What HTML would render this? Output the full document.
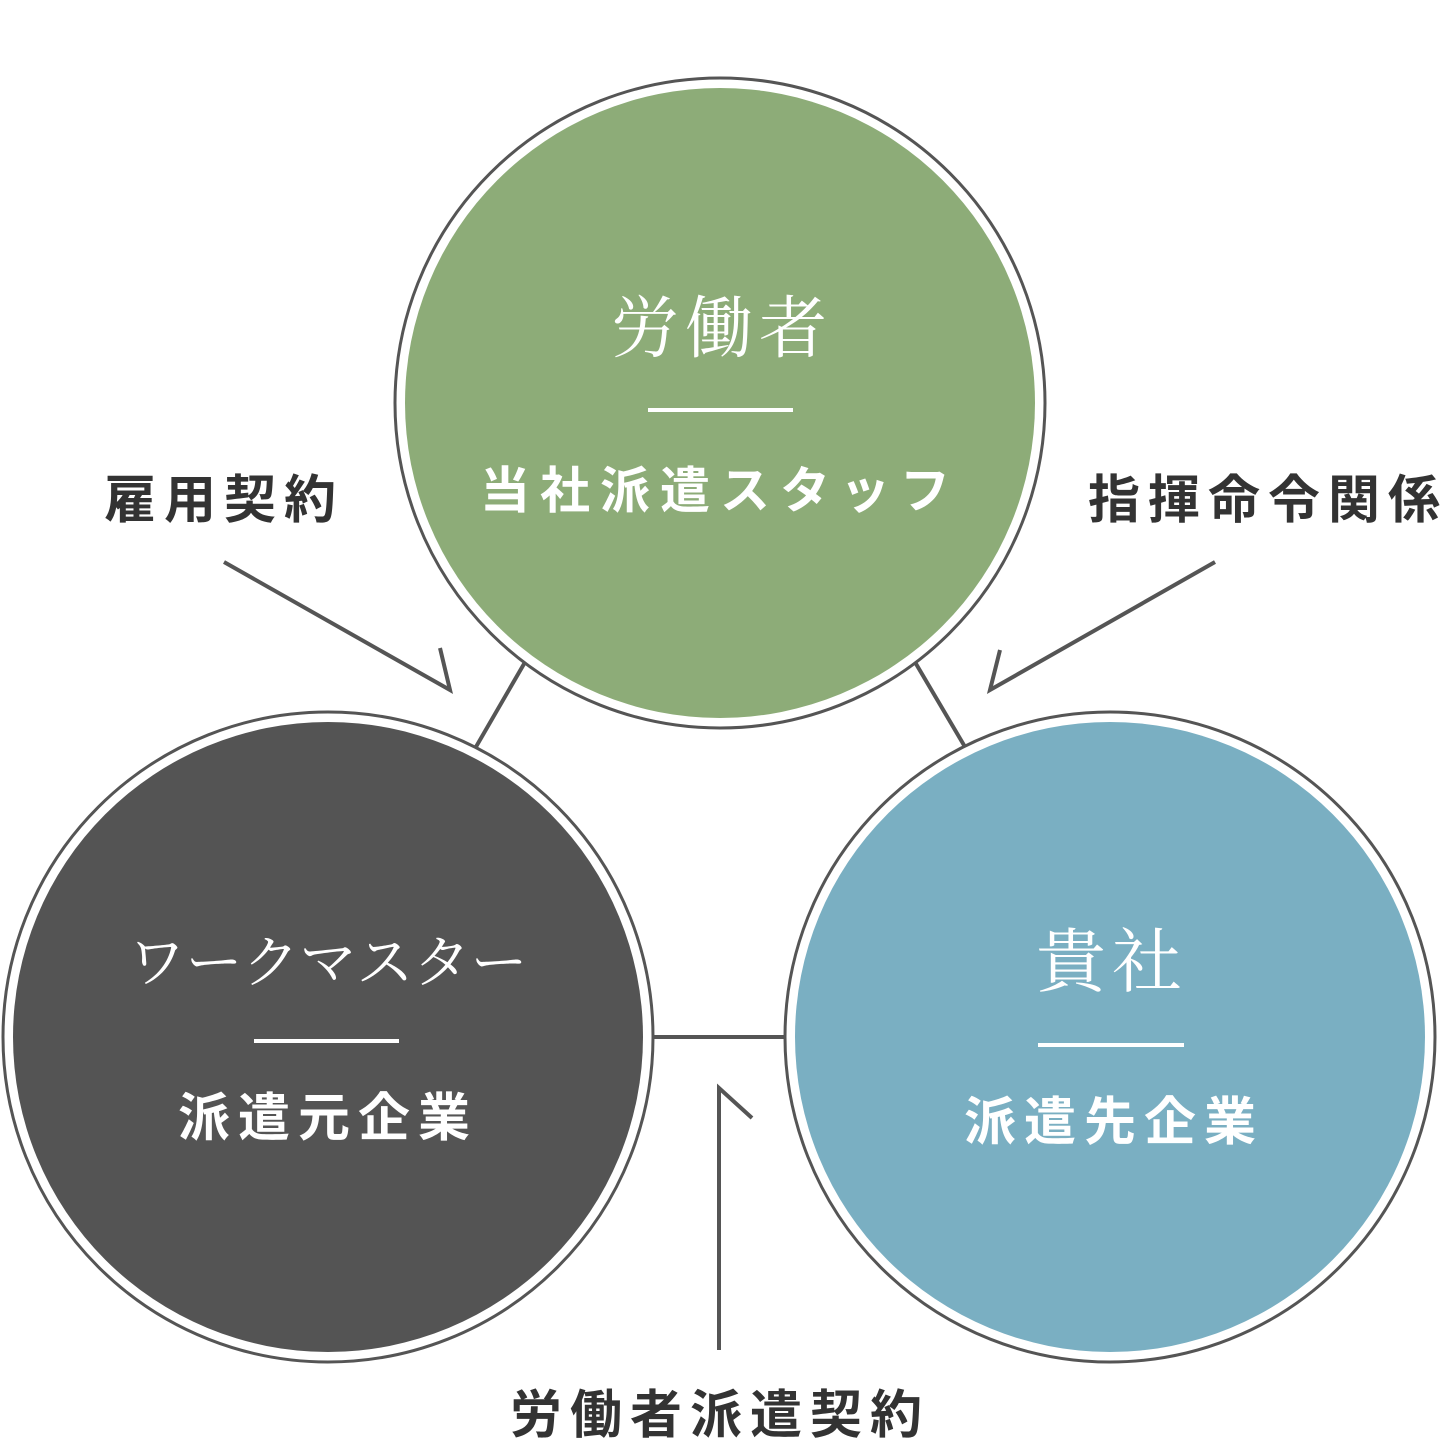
<!DOCTYPE html>
<html><head><meta charset="utf-8"><style>
html,body{margin:0;padding:0;background:#fff;}
svg{display:block}
.s{font-family:"Liberation Serif","Noto Serif CJK SC",serif;fill:#fff;}
.b{font-family:"Liberation Sans","Noto Sans CJK JP",sans-serif;font-weight:bold;}
</style></head><body>
<svg width="1440" height="1440" viewBox="0 0 1440 1440" xmlns="http://www.w3.org/2000/svg">
<g stroke="#555" stroke-width="4" fill="none">
<line x1="528" y1="657" x2="473" y2="752"/>
<line x1="912" y1="657" x2="968" y2="752"/>
<line x1="650" y1="1037" x2="795" y2="1037"/>
<polyline points="224,562 450,690 440,648"/>
<polyline points="1215,562 990,690 1000,650"/>
<polyline points="719,1350 719,1088 752,1118"/>
</g>
<circle cx="720" cy="403" r="325" fill="#fff" stroke="#555" stroke-width="3"/>
<circle cx="720" cy="403" r="315" fill="#8dac78"/>
<circle cx="328" cy="1037" r="325" fill="#fff" stroke="#555" stroke-width="3"/>
<circle cx="328" cy="1037" r="315" fill="#545454"/>
<circle cx="1110" cy="1037" r="325" fill="#fff" stroke="#555" stroke-width="3"/>
<circle cx="1110" cy="1037" r="315" fill="#7aafc2"/>
<g fill="#fff">
<rect x="648" y="408" width="145" height="4"/>
<rect x="254" y="1039" width="145" height="4"/>
<rect x="1038" y="1043" width="146" height="4"/>
</g>
<text class="s" x="722" y="352" font-size="68" text-anchor="middle" letter-spacing="6">労働者</text>
<text class="b" x="720" y="508" font-size="50" fill="#fff" text-anchor="middle" letter-spacing="10">当社派遣スタッフ</text>
<text class="s" x="328" y="982" font-size="57" text-anchor="middle" letter-spacing="0">ワークマスター</text>
<text class="b" x="328" y="1136" font-size="52" fill="#fff" text-anchor="middle" letter-spacing="8">派遣元企業</text>
<text class="s" x="1112" y="986" font-size="70" text-anchor="middle" letter-spacing="6">貴社</text>
<text class="b" x="1114" y="1140" font-size="52" fill="#fff" text-anchor="middle" letter-spacing="8">派遣先企業</text>
<g class="b" fill="#333" font-size="52">
<text x="224" y="518" text-anchor="middle" letter-spacing="8">雇用契約</text>
<text x="1268" y="518" text-anchor="middle" letter-spacing="8">指揮命令関係</text>
<text x="720" y="1433" text-anchor="middle" letter-spacing="8">労働者派遣契約</text>
</g>
</svg>
</body></html>
